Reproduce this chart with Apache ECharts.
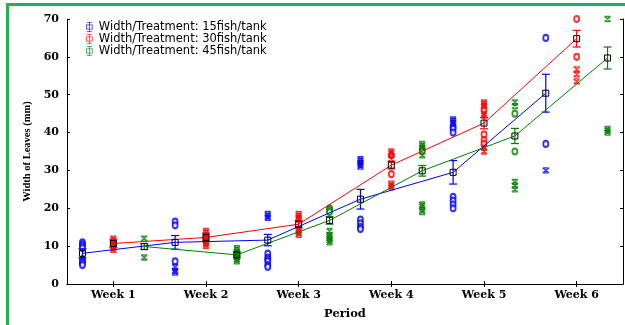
<!DOCTYPE html>
<html><head><meta charset="utf-8">
<script src="https://cdn.jsdelivr.net/npm/echarts@6/dist/echarts.min.js"></script>
<style>
html,body{margin:0;padding:0;background:#fff;overflow:hidden}
#c{width:625px;height:325px;position:absolute;left:0;top:0}
#b{position:absolute;left:6px;top:3px;width:700px;height:400px;border:3px solid #22b14c;box-sizing:border-box;pointer-events:none}
</style></head><body><div id="c"></div><div id="b"></div>
<script>
// ---- data ----
const weeks = ['Week 1', 'Week 2', 'Week 3', 'Week 4', 'Week 5', 'Week 6'];
const treatments = ['Width/Treatment: 15fish/tank', 'Width/Treatment: 30fish/tank', 'Width/Treatment: 45fish/tank'];
const yTicks = [0, 10, 20, 30, 40, 50, 60, 70];

const mean15 = [8.1, 11.0, 11.6, 22.4, 29.5, 50.4];
const mean30 = [10.7, 12.3, 15.8, 31.4, 42.5, 64.8];
const mean45 = [9.9, 7.7, 16.8, 29.9, 39.1, 59.7];

const err15 = [1.2, 1.8, 1.5, 2.6, 3.1, 5.0];
const err30 = [1.0, 1.0, 1.0, 1.0, 1.5, 2.2];
const err45 = [0.8, 0.8, 1.0, 1.4, 2.0, 2.9];

// raw observations per week (o markers and x markers)
const circles15 = [[11, 10.5, 10, 9.5, 6.5, 6, 5.5, 5], [16.5, 15.5, 6], [8, 7, 6.5, 6, 5, 4.5], [17, 16, 15, 14.5], [41.5, 41, 40, 23, 22, 21, 20], [65, 37]];
const crosses15 = [[], [4.5, 3.5, 3], [18.5, 18, 17.5], [33, 32.5, 32, 31.5, 31], [43.5, 43, 42.5], [30]];
const circles30 = [[], [], [], [34, 29], [46, 39.5, 38, 37], [70, 60]];
const crosses30 = [[12, 11.5, 11, 10.5, 10, 9.5, 9], [14, 13.5, 13, 12.5, 12, 11.5, 11, 10.5, 10], [18.5, 18, 17.5, 17, 14.5, 14, 13.5, 13], [35, 34.5, 33, 26.5, 26, 25.5], [48, 47.5, 47, 45, 44.5, 36, 35], [56.7, 55.4, 53.5]];
const circles45 = [[], [], [20, 19.5, 19], [35.5, 35], [45, 35], []];
const crosses45 = [[12, 7], [9.5, 9, 8.5, 8, 7.5, 7, 6.5, 6], [14, 13, 12.5, 12, 11.5, 11], [37, 36.5, 36, 34, 21, 20.5, 19.5, 19], [48, 47, 27, 26, 25], [70, 41, 40.5, 40]];

// ---- build ----
const colors = ['#0000ff', '#ff0000', '#008000'];
const means = [mean15, mean30, mean45];
const errs = [err15, err30, err45];
const circ = [circles15, circles30, circles45];
const cross = [crosses15, crosses30, crosses45];

const slot = (t, w) => 1 + 3 * w + t;           // 18 slots, 3 per week
const weekTickValues = weeks.map((_, w) => slot(1, w));

const crossSymbol = 'path://M0,0H10M0,10H10M0,0L10,10M10,0L0,10';
const legendIcon = 'path://M1,3h8v1h-8zM1,8h8v1h-8zM1,3h1v6h-1zM8,3h1v6h-1zM2,0h6v1h-6zM2,11h6v1h-6zM4.5,0h1v12h-1z';

const series = [];
treatments.forEach((name, t) => {
  const c = colors[t];
  const cPts = [], xPts = [];
  weeks.forEach((_, w) => {
    circ[t][w].forEach(v => cPts.push([slot(t, w), v]));
    cross[t][w].forEach(v => xPts.push([slot(t, w), v]));
  });
  series.push({
    type: 'scatter', name: name, data: cPts, symbol: 'emptyCircle', symbolSize: [5, 6],
    itemStyle: { color: c, borderColor: c, borderWidth: 1.5 }, z: 2, silent: true, clip: true
  });
  series.push({
    type: 'scatter', name: name, data: xPts, symbol: crossSymbol, symbolSize: [6, 5],
    itemStyle: { color: 'transparent', borderColor: c, borderWidth: 1.4 }, z: 2, silent: true, clip: true
  });
  series.push({
    type: 'custom', name: name,
    data: means[t].map((m, w) => [slot(t, w), m - errs[t][w], m + errs[t][w]]),
    encode: { x: 0, y: [1, 2] },
    renderItem: (params, api) => {
      const x = api.value(0);
      const lo = api.coord([x, api.value(1)]);
      const hi = api.coord([x, api.value(2)]);
      const hw = 4;
      const st = { stroke: c, lineWidth: 1.2 };
      return {
        type: 'group', children: [
          { type: 'line', shape: { x1: lo[0], y1: lo[1], x2: hi[0], y2: hi[1] }, style: st },
          { type: 'line', shape: { x1: lo[0] - hw, y1: lo[1], x2: lo[0] + hw, y2: lo[1] }, style: st },
          { type: 'line', shape: { x1: hi[0] - hw, y1: hi[1], x2: hi[0] + hw, y2: hi[1] }, style: st }
        ]
      };
    },
    z: 3, silent: true
  });
  series.push({
    type: 'line', name: name,
    data: means[t].map((m, w) => [slot(t, w), m]),
    symbol: 'rect', symbolSize: 6, showSymbol: true,
    lineStyle: { color: c, width: 1 },
    itemStyle: { color: 'rgba(255,255,255,0)', borderColor: '#000', borderWidth: 1 },
    z: 4, silent: true, animation: false
  });
});

const serif = 'DejaVu Serif';
const option = {
  animation: false,
  backgroundColor: '#fff',
  grid: { left: 67, right: 2, top: 19, bottom: 38, containLabel: false },
  legend: {
    left: 86, top: 21, orient: 'vertical', itemGap: 0, itemWidth: 9, itemHeight: 10, padding: 0,
    selectedMode: false,
    textStyle: { fontFamily: 'DejaVu Sans', fontSize: 11.5, color: '#000', lineHeight: 11.3 },
    data: treatments.map((n, t) => ({ name: n, icon: legendIcon, itemStyle: { color: colors[t], borderWidth: 0 } }))
  },
  xAxis: [{
    type: 'value', min: 0.5, max: 18.5, position: 'bottom',
    name: 'Period', nameLocation: 'middle', nameGap: 24,
    nameTextStyle: { fontFamily: serif, fontWeight: 'bold', fontSize: 11.5, color: '#000' },
    axisLine: { show: true, lineStyle: { color: '#000', width: 1 } },
    axisTick: { show: true, inside: true, length: 3, customValues: weekTickValues, lineStyle: { color: '#000' } },
    axisLabel: {
      customValues: weekTickValues, margin: 6,
      formatter: v => weeks[Math.round((v - 2) / 3)] || '',
      fontFamily: serif, fontWeight: 'bold', fontSize: 11, color: '#000'
    },
    splitLine: { show: false }
  }, {
    type: 'value', min: 0.5, max: 18.5, position: 'top',
    axisLine: { show: true, lineStyle: { color: '#000', width: 1 } },
    axisTick: { show: true, inside: true, length: 3, customValues: weekTickValues, lineStyle: { color: '#000' } },
    axisLabel: { show: false }, splitLine: { show: false }
  }],
  yAxis: [{
    type: 'value', min: yTicks[0], max: yTicks[yTicks.length - 1], interval: 10, position: 'left',
    name: 'Width of Leaves (mm)', nameLocation: 'middle', nameGap: 29, nameRotate: 90,
    nameTextStyle: { fontFamily: 'Liberation Serif', fontWeight: 'bold', fontSize: 10.5, color: '#000' },
    axisLine: { show: true, lineStyle: { color: '#000', width: 1 } },
    axisTick: { show: true, inside: true, length: 3, lineStyle: { color: '#000' } },
    axisLabel: { margin: 8, fontFamily: serif, fontWeight: 'bold', fontSize: 11, color: '#000' },
    splitLine: { show: false }
  }, {
    type: 'value', min: yTicks[0], max: yTicks[yTicks.length - 1], interval: 10, position: 'right',
    axisLine: { show: true, lineStyle: { color: '#000', width: 1 } },
    axisTick: { show: true, inside: true, length: 3, lineStyle: { color: '#000' } },
    axisLabel: { show: false }, splitLine: { show: false }
  }],
  series: series
};
const chart = echarts.init(document.getElementById('c'), null, { renderer: 'canvas' });
chart.setOption(option);
</script>
</body></html>
